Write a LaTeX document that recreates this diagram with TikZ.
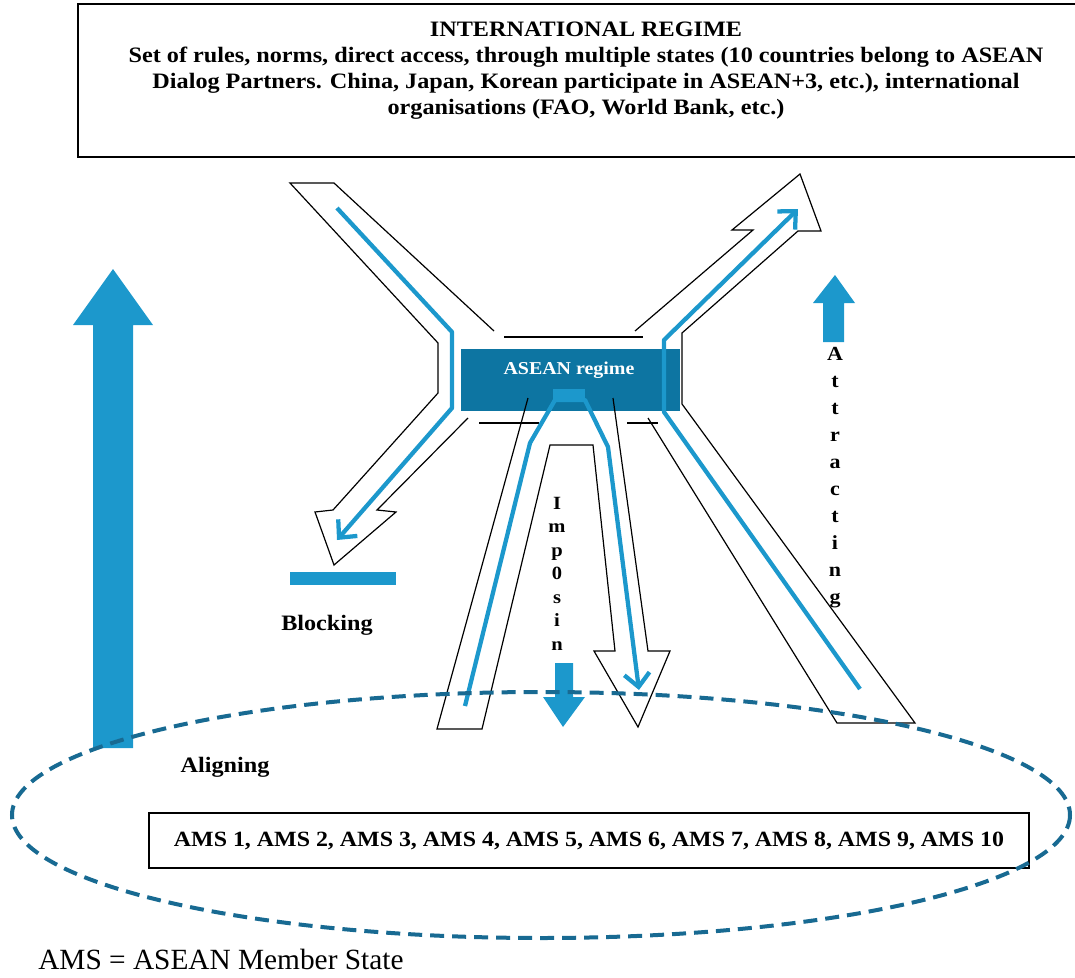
\documentclass[tikz,border=0pt]{standalone}
\usepackage{fontspec}
\setmainfont{Liberation Serif}
\newfontfamily\widefont[FakeStretch=1.1]{Liberation Serif}
\usetikzlibrary{arrows.meta}
\definecolor{lblue}{RGB}{28,152,204}
\definecolor{dbox}{RGB}{13,117,162}
\definecolor{dashc}{RGB}{24,106,146}
\begin{document}
\begin{tikzpicture}[x=0.75pt,y=-0.75pt,
  outline/.style={black,line width=0.9pt,line join=miter},
  flow/.style={lblue,line width=3.2pt,line join=round},
  flowhead/.style={flow,-{Straight Barb[length=10pt,width=19pt]}},
  bigarrow/.style={fill=lblue,draw=none},
  lbl/.style={inner sep=0pt,font=\widefont\bfseries},
  vlbl/.style={inner sep=0pt,font=\widefont\bfseries\fontsize{15}{20.25}\selectfont,align=center},
]
\useasboundingbox (0,0) rectangle (1075,978);

% international regime box
\draw[line width=2.2pt] (1075,4) -- (78,4) -- (78,157) -- (1075,157);
\node[lbl,align=center,font=\widefont\bfseries\fontsize{16.5}{19.5}\selectfont] (intl) at (586,71)
 {INTERNATIONAL REGIME\\
  Set of rules, norms, direct access, through multiple states (10 countries belong to ASEAN\\
  Dialog Partners. China, Japan, Korean participate in ASEAN+3, etc.), international\\
  organisations (FAO, World Bank, etc.)};

% ASEAN regime box
\node[fill=dbox,minimum width=164.25pt,minimum height=46.5pt,inner sep=0pt] (asean) at (570.5,380) {};
\node[lbl,text=white,font=\widefont\bfseries\fontsize{13.6}{16}\selectfont] (aseanlbl) at (569,370) {ASEAN regime};

% hollow outline arrows
\draw[outline] (494,331) -- (334,183) -- (290,183) -- (438,343) -- (438,393) -- (333,510)
  -- (315,512) -- (334,565) -- (396,512) -- (377,510) -- (468,418);
\draw[outline] (504,337) -- (643,337);
\draw[outline] (635,331) -- (753,230) -- (732,230) -- (800,174) -- (821,231) -- (798,231)
  -- (682,333) -- (682,404) -- (915,723) -- (837,723) -- (648,418);
\draw[outline] (479,423) -- (539,423);
\draw[outline] (627,423) -- (658,423);
\draw[outline] (528,398) -- (437,729) -- (482,729) -- (550,445) -- (593,445) -- (615,651)
  -- (594,651) -- (638,727) -- (670,651) -- (648,651) -- (613,398);

% blue flow lines
\draw[flowhead] (337,208) -- (452,332) -- (452,408) -- (337,540);
\draw[flowhead] (860,689) -- (664,412) -- (664,340) -- (798,209);
\fill[lblue] (553,389) rectangle (585,402);
\draw[flowhead] (465,706) -- (530,443) -- (555,400) -- (585,400) -- (608,447) -- (639,690);

% blocking bar
\fill[lblue] (290,572) rectangle (396,585);
\node[lbl,font=\widefont\bfseries\fontsize{16.5}{18}\selectfont] (blocking) at (327,625) {Blocking};

% attracting
\fill[bigarrow] (823,342) -- (823,303) -- (813,303) -- (835,275) -- (855,303) -- (844,303) -- (844,342) -- cycle;
\node[vlbl,anchor=north] (attr) at (835,347) {A\\t\\t\\r\\a\\c\\t\\i\\n\\g};

% imposing
\node[vlbl,anchor=north,font=\widefont\bfseries\fontsize{14}{17.6}\selectfont] (impo) at (557,497) {I\\m\\p\\0\\s\\i\\n};
\fill[bigarrow] (555,663) -- (573,663) -- (573,697) -- (585,697) -- (563,727) -- (543,697) -- (555,697) -- cycle;

% aligning arrow
\fill[bigarrow] (93,748) -- (93,325) -- (73,325) -- (113,269) -- (153,325) -- (133,325) -- (133,748) -- cycle;
\node[lbl,font=\widefont\bfseries\fontsize{16.5}{18}\selectfont] (aligning) at (225,767) {Aligning};

% AMS box
\node[draw,line width=2.2pt,minimum width=660pt,minimum height=41.25pt,inner sep=0pt,
  font=\widefont\bfseries\fontsize{16.3}{20}\selectfont] (ams) at (589,840.5)
  {AMS 1, AMS 2, AMS 3, AMS 4, AMS 5, AMS 6, AMS 7, AMS 8, AMS 9, AMS 10};

% dashed ellipse
\draw[dashc,line width=3pt,dash pattern=on 10.5pt off 6pt] (541,815) ellipse [x radius=529,y radius=123];

% footnote
\node[inner sep=0pt,anchor=base west,font=\fontsize{22}{24}\selectfont] (note) at (38,969) {AMS = ASEAN Member State};
\end{tikzpicture}
\end{document}
